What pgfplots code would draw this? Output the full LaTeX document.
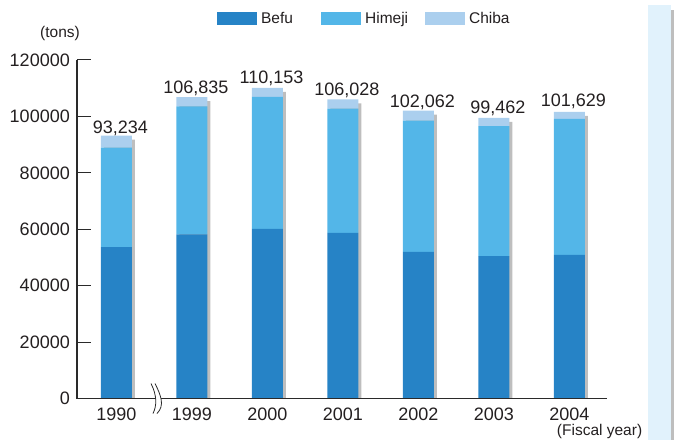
\documentclass[border=0pt]{standalone}
\usepackage{fontspec}
\setmainfont{Liberation Sans}
\usepackage{pgfplots}
\usepackage{pgfplotstable}
\usetikzlibrary{calc}
\pgfplotsset{compat=1.18}
\definecolor{befu}{HTML}{2683C6}
\definecolor{himeji}{HTML}{53B6E8}
\definecolor{chiba}{HTML}{ABCFEE}
\definecolor{shadow}{HTML}{BEBEBE}
\definecolor{txt}{HTML}{231F20}
\definecolor{axc}{HTML}{2A2A2A}
\definecolor{stripe}{HTML}{E1F2FC}

\pgfplotstableread{
x befu himeji chiba total label
0 53700 35200 4334 93234 93,234
1 58200 45400 3235 106835 106,835
2 60100 46800 3253 110153 110,153
3 58700 44100 3228 106028 106,028
4 52000 46500 3562 102062 102,062
5 50500 46100 2862 99462 99,462
6 50900 48200 2529 101629 101,629
}\datatable

\pgfplotsset{base/.style={
  scale only axis, width=530pt, height=338.5pt, at={(77pt,41.5pt)}, anchor=south west,
  xmin=-0.523, xmax=6.497, ymin=0, ymax=120000,
},
sqlegend/.style={legend image code/.code={\fill[##1] (0pt,-6.5pt) rectangle (40pt,6.5pt);}}}

\begin{document}
\begin{tikzpicture}[font=\fontsize{18}{21}\selectfont, text=txt]
\path[use as bounding box] (0,0) rectangle (675pt,440pt);
\fill[stripe] (648pt,0) rectangle (671pt,435pt);
\fill[shadow] (671pt,0) rectangle (674pt,430pt);
\begin{axis}[base, hide axis, ybar, bar width=31pt]
\addplot[fill=shadow, draw=none, bar shift=3pt, yshift=-4pt] table[x=x, y=total] {\datatable};
\end{axis}
\begin{axis}[base, name=main, ybar stacked, bar width=31pt, clip=false,
  axis x line=bottom, axis y line=left,
  axis line style={-, line width=1.3pt, draw=axc},
  xtick={0,...,6}, xticklabels={1990,1999,2000,2001,2002,2003,2004},
  x tick style={draw=none},
  ytick={0,20000,...,120000}, ytick align=inside, major tick length=14pt,
  y tick style={draw=axc, line width=1pt},
  scaled y ticks=false,
  /pgf/number format/fixed, /pgf/number format/1000 sep={},
  /pgf/number format/assume math mode=true,
  yticklabel style={inner sep=0pt, xshift=-7pt},
  xticklabel style={inner sep=0pt, yshift=-2pt},
  legend style={draw=none, fill=none, at={(0.264,1.1226)}, anchor=west,
    legend columns=3, inner sep=0pt, nodes={inner sep=0pt}, column sep=4pt,
    font=\fontsize{15.5}{18}\selectfont},
  ]
\addplot[fill=befu, draw=none, sqlegend] table[x=x, y=befu] {\datatable};
\addlegendentry{\makebox[56pt][l]{Befu}}
\addplot[fill=himeji, draw=none, sqlegend] table[x=x, y=himeji] {\datatable};
\addlegendentry{\makebox[56pt][l]{Himeji}}
\addplot[fill=chiba, draw=none, sqlegend,
  nodes near coords, point meta=explicit symbolic,
  nodes near coords style={anchor=south, yshift=6pt, xshift=4pt, inner sep=0pt, text=txt}]
  table[x=x, y=chiba, meta=label] {\datatable};
\addlegendentry{\makebox[56pt][l]{Chiba}}
\node[font=\fontsize{15.5}{18}\selectfont] at (rel axis cs:-0.032,1.077) {(tons)};
\node[font=\fontsize{15.5}{18}\selectfont] at (rel axis cs:0.986,-0.098) {(Fiscal year)};
\end{axis}
% axis lines and ticks as thin filled rectangles
\fill[axc] ($(main.south west)+(-0.65pt,-0.65pt)$) rectangle ($(main.north west)+(0.65pt,0pt)$);
\fill[axc] ($(main.south west)+(-0.65pt,-0.65pt)$) rectangle ($(main.south east)+(0pt,0.65pt)$);
\foreach \k in {1,...,6} {
  \fill[axc] ($(main.south west)!\k/6!(main.north west)+(0pt,-0.5pt)$) rectangle ++(14pt,1pt);
}
% axis break
\begin{scope}[shift={(155pt,41.5pt)}]
\fill[white] (-4pt,15pt) .. controls +(6pt,-12pt) and +(4pt,8pt) .. (-2pt,-15pt) -- (2pt,-15pt) .. controls +(8pt,8pt) and +(6pt,-12pt) .. (0pt,15pt) -- cycle;
\draw[axc, line width=0.8pt] (-4pt,15pt) .. controls +(6pt,-12pt) and +(4pt,8pt) .. (-2pt,-15pt);
\draw[axc, line width=0.8pt] (0pt,15pt) .. controls +(6pt,-12pt) and +(8pt,8pt) .. (2pt,-15pt);
\end{scope}
\end{tikzpicture}
\end{document}
